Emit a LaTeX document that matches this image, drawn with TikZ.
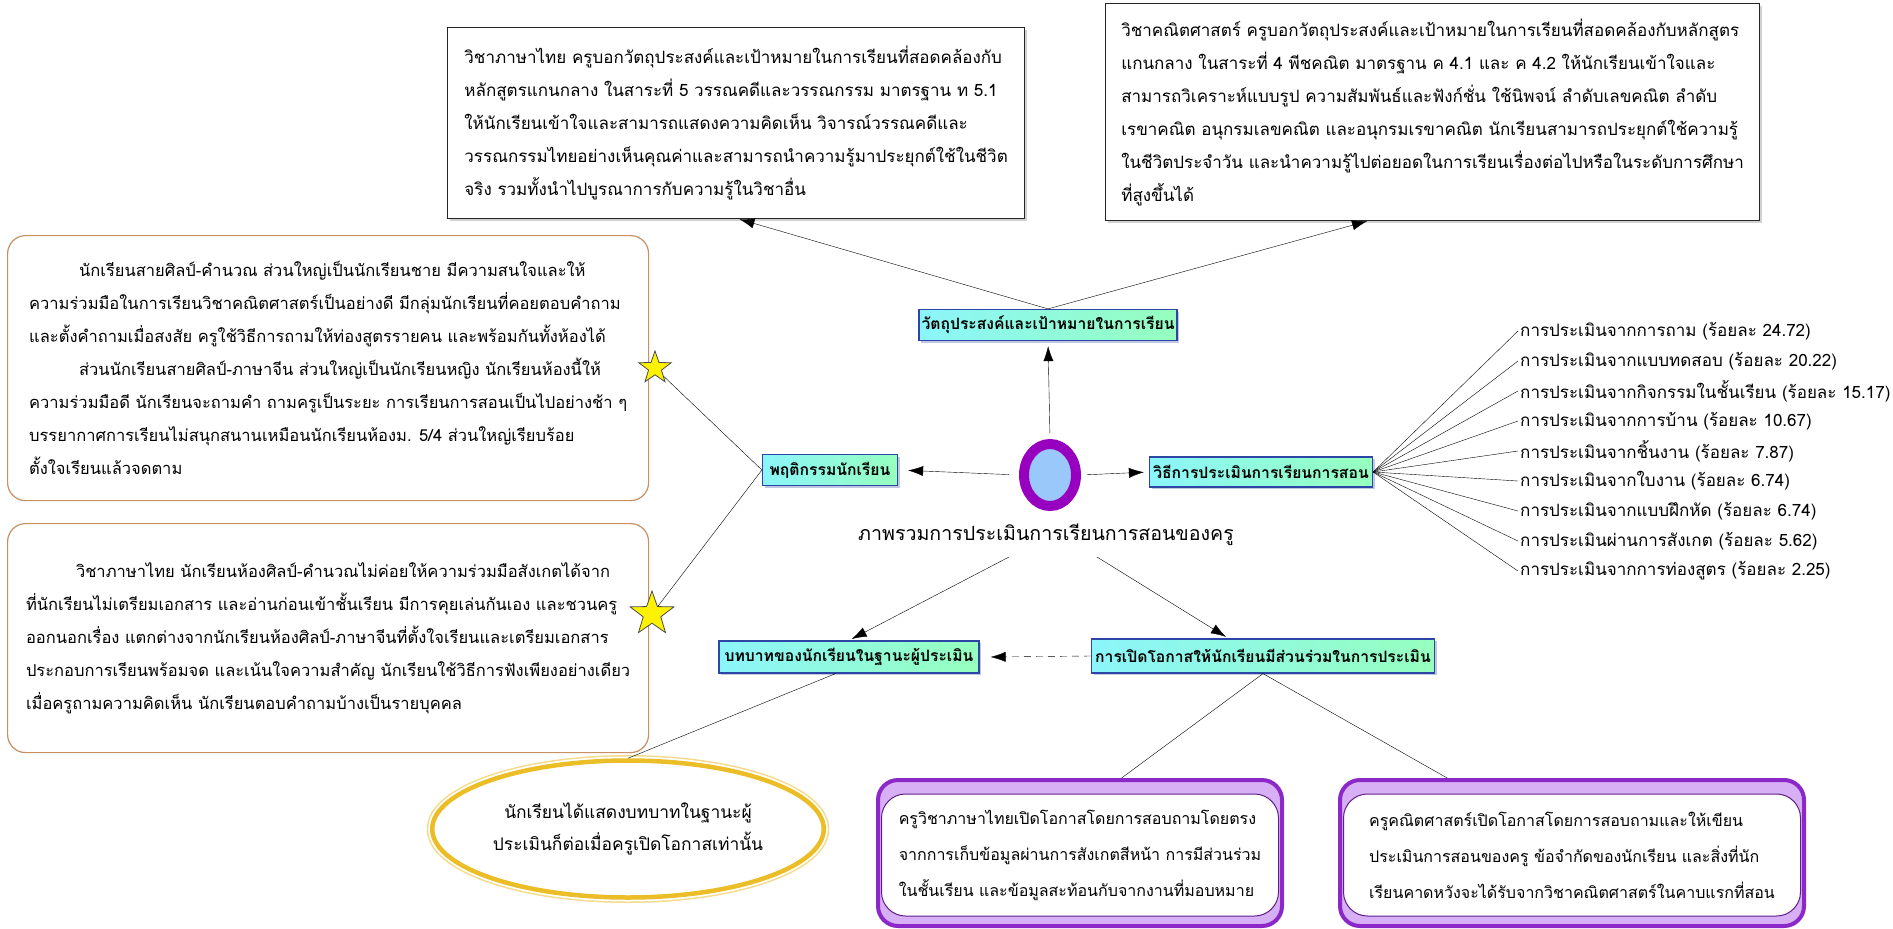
\documentclass[tikz,border=0pt]{standalone}
\usepackage{fontspec}
\setmainfont{Loma}[Script=Thai]
\usetikzlibrary{shapes.geometric,shadows,arrows.meta,calc}

\definecolor{tanline}{RGB}{200,145,100}
\definecolor{topicedge}{RGB}{45,70,165}
\definecolor{topicleft}{RGB}{140,245,250}
\definecolor{topicright}{RGB}{150,255,190}
\definecolor{ringpurple}{RGB}{150,0,190}
\definecolor{coreblue}{RGB}{155,200,250}
\definecolor{goldline}{RGB}{235,190,40}
\definecolor{lavender}{RGB}{215,175,245}
\definecolor{framepurple}{RGB}{140,40,200}

\begin{document}
\begin{tikzpicture}[x=1pt, y=-1pt, >={Latex[length=15pt,width=10pt]}]

\tikzstyle{note}=[draw=black!85, line width=1.2pt, fill=white, anchor=north west, align=left, inner sep=8pt, font=\fontsize{17}{33}\selectfont, drop shadow={shadow xshift=2pt, shadow yshift=-2pt, fill=black!35}]
\tikzstyle{remark}=[draw=tanline, line width=1.2pt, rounded corners=18pt, fill=white, anchor=north west, align=left, inner sep=8pt, font=\fontsize{16.5}{33}\selectfont]
\tikzstyle{topic}=[draw=topicedge, line width=1.2pt, left color=topicleft, right color=topicright, inner sep=2pt, font=\fontsize{15.7}{17}\selectfont\bfseries, drop shadow={shadow xshift=2pt, shadow yshift=-2pt, fill=topicedge!60}]
\tikzstyle{purpleframe}=[draw=framepurple, line width=4pt, rounded corners=20pt, fill=lavender]
\tikzstyle{innerbox}=[draw=framepurple!70!black, line width=1pt, rounded corners=24pt, fill=white, align=left, inner sep=4pt, font=\fontsize{16}{36}\selectfont]
\tikzstyle{listitem}=[anchor=west, inner sep=2pt, font=\fontsize{17}{20}\selectfont]
\tikzstyle{starmark}=[star, star points=5, star point ratio=2.5, draw=black!70, line width=0.8pt, fill=yellow, inner sep=0pt]

\path[use as bounding box, fill=white] (0,0) rectangle (1893,929);

\node[note, minimum width=577pt, minimum height=191pt] (thaiGoal) at (447,27) {วิชาภาษาไทย ครูบอกวัตถุประสงค์และเป้าหมายในการเรียนที่สอดคล้องกับ\\
หลักสูตรแกนกลาง ในสาระที่ 5 วรรณคดีและวรรณกรรม มาตรฐาน ท 5.1\\
ให้นักเรียนเข้าใจและสามารถแสดงความคิดเห็น วิจารณ์วรรณคดีและ\\
วรรณกรรมไทยอย่างเห็นคุณค่าและสามารถนำความรู้มาประยุกต์ใช้ในชีวิต\\
จริง รวมทั้งนำไปบูรณาการกับความรู้ในวิชาอื่น};

\node[note, minimum width=654pt, minimum height=217pt] (mathGoal) at (1105,3) {วิชาคณิตศาสตร์ ครูบอกวัตถุประสงค์และเป้าหมายในการเรียนที่สอดคล้องกับหลักสูตร\\
แกนกลาง ในสาระที่ 4 พีชคณิต มาตรฐาน ค 4.1 และ ค 4.2 ให้นักเรียนเข้าใจและ\\
สามารถวิเคราะห์แบบรูป ความสัมพันธ์และฟังก์ชั่น ใช้นิพจน์ ลำดับเลขคณิต ลำดับ\\
เรขาคณิต อนุกรมเลขคณิต และอนุกรมเรขาคณิต นักเรียนสามารถประยุกต์ใช้ความรู้\\
ในชีวิตประจำวัน และนำความรู้ไปต่อยอดในการเรียนเรื่องต่อไปหรือในระดับการศึกษา\\
ที่สูงขึ้นได้};

\node[remark, minimum width=641pt, minimum height=265pt] (classNote) at (7,235) {\hspace*{50pt}นักเรียนสายศิลป์-คำนวณ ส่วนใหญ่เป็นนักเรียนชาย มีความสนใจและให้\\
ความร่วมมือในการเรียนวิชาคณิตศาสตร์เป็นอย่างดี มีกลุ่มนักเรียนที่คอยตอบคำถาม\\
และตั้งคำถามเมื่อสงสัย ครูใช้วิธีการถามให้ท่องสูตรรายคน และพร้อมกันทั้งห้องได้\\
\hspace*{50pt}ส่วนนักเรียนสายศิลป์-ภาษาจีน ส่วนใหญ่เป็นนักเรียนหญิง นักเรียนห้องนี้ให้\\
ความร่วมมือดี นักเรียนจะถามคำ ถามครูเป็นระยะ การเรียนการสอนเป็นไปอย่างช้า ๆ\\
บรรยากาศการเรียนไม่สนุกสนานเหมือนนักเรียนห้องม. 5/4 ส่วนใหญ่เรียบร้อย\\
ตั้งใจเรียนแล้วจดตาม};

\node[remark, minimum width=641pt, minimum height=229pt] (thaiNote) at (7,523) {\hspace*{50pt}วิชาภาษาไทย นักเรียนห้องศิลป์-คำนวณไม่ค่อยให้ความร่วมมือสังเกตได้จาก\\
ที่นักเรียนไม่เตรียมเอกสาร และอ่านก่อนเข้าชั้นเรียน มีการคุยเล่นกันเอง และชวนครู\\
ออกนอกเรื่อง แตกต่างจากนักเรียนห้องศิลป์-ภาษาจีนที่ตั้งใจเรียนและเตรียมเอกสาร\\
ประกอบการเรียนพร้อมจด และเน้นใจความสำคัญ นักเรียนใช้วิธีการฟังเพียงอย่างเดียว\\
เมื่อครูถามความคิดเห็น นักเรียนตอบคำถามบ้างเป็นรายบุคคล};

\node[starmark, minimum size=34pt] (starA) at (655,368) {};
\node[starmark, minimum size=46pt] (starB) at (652,614) {};

\node[topic, minimum width=258pt, minimum height=31pt] (goal) at (1048,325) {วัตถุประสงค์และเป้าหมายในการเรียน};
\node[topic, minimum width=135pt, minimum height=31pt] (behav) at (830,470) {พฤติกรรมนักเรียน};
\node[topic, minimum width=223pt, minimum height=30pt] (method) at (1261,472) {วิธีการประเมินการเรียนการสอน};
\node[topic, minimum width=260pt, minimum height=32pt] (role) at (849,657) {บทบาทของนักเรียนในฐานะผู้ประเมิน};
\node[topic, minimum width=343pt, minimum height=34pt] (open) at (1263,656) {การเปิดโอกาสให้นักเรียนมีส่วนร่วมในการประเมิน};

\node[ellipse, draw=ringpurple, line width=10pt, fill=coreblue, minimum width=52pt, minimum height=62pt] (core) at (1050,475) {};
\node[font=\fontsize{19.6}{24}\selectfont] (coreLabel) at (1046,535) {ภาพรวมการประเมินการเรียนการสอนของครู};
\coordinate (splitL) at (1009,557);
\coordinate (splitR) at (1097,557);

\node[listitem] (m1) at (1518,331) {การประเมินจากการถาม (ร้อยละ 24.72)};
\node[listitem] (m2) at (1518,361) {การประเมินจากแบบทดสอบ (ร้อยละ 20.22)};
\node[listitem] (m3) at (1518,391) {การประเมินจากกิจกรรมในชั้นเรียน (ร้อยละ 15.17)};
\node[listitem] (m4) at (1518,421) {การประเมินจากการบ้าน (ร้อยละ 10.67)};
\node[listitem] (m5) at (1518,451) {การประเมินจากชิ้นงาน (ร้อยละ 7.87)};
\node[listitem] (m6) at (1518,481) {การประเมินจากใบงาน (ร้อยละ 6.74)};
\node[listitem] (m7) at (1518,511) {การประเมินจากแบบฝึกหัด (ร้อยละ 6.74)};
\node[listitem] (m8) at (1518,541) {การประเมินผ่านการสังเกต (ร้อยละ 5.62)};
\node[listitem] (m9) at (1518,571) {การประเมินจากการท่องสูตร (ร้อยละ 2.25)};

\node[ellipse, draw=goldline, line width=4.5pt, fill=white, minimum width=315pt, minimum height=137pt, align=center, font=\fontsize{17.4}{32}\selectfont, preaction={draw=goldline!55, line width=11pt}, preaction={draw=white, line width=8pt}] (gold) at (628,829) {นักเรียนได้แสดงบทบาทในฐานะผู้\\ประเมินก็ต่อเมื่อครูเปิดโอกาสเท่านั้น};

\node[purpleframe, minimum width=404pt, minimum height=146pt] (thaiOpenBg) at (1080,853) {};
\node[innerbox, minimum width=397pt, minimum height=122pt] (thaiOpen) at (1080,855) {ครูวิชาภาษาไทยเปิดโอกาสโดยการสอบถามโดยตรง\\
จากการเก็บข้อมูลผ่านการสังเกตสีหน้า การมีส่วนร่วม\\
ในชั้นเรียน และข้อมูลสะท้อนกับจากงานที่มอบหมาย};
\node[purpleframe, minimum width=464pt, minimum height=146pt] (mathOpenBg) at (1572,853) {};
\node[innerbox, minimum width=457pt, minimum height=122pt] (mathOpen) at (1572,855) {ครูคณิตศาสตร์เปิดโอกาสโดยการสอบถามและให้เขียน\\
ประเมินการสอนของครู ข้อจำกัดของนักเรียน และสิ่งที่นัก\\
เรียนคาดหวังจะได้รับจากวิชาคณิตศาสตร์ในคาบแรกที่สอน};

\draw[->, shorten <=6pt, shorten >=5pt] (core.north) -- (goal.south);
\draw[->, shorten <=10pt, shorten >=10pt] (core.west) -- (behav.east);
\draw[->, shorten <=6pt, shorten >=5pt] (core.east) -- (method.west);
\draw[->] (goal.north) -- (thaiGoal.272);
\draw[->] (goal.north) -- (mathGoal.239);
\draw (starA) -- (behav.west);
\draw (starB) -- (behav.west);
\draw[->, shorten >=3pt] (splitL) -- (role.north);
\draw[->, shorten >=3pt] (splitR) -- (open.153);
\draw[->, dash pattern=on 7pt off 5pt] (open.west) -- ($(role.east)+(11,0)$);
\draw (role.231) -- (gold.north);
\draw (open.south) -- (thaiOpenBg.61);
\draw (open.south) -- (mathOpenBg.149);
\draw (method.east) -- (m1.west);
\draw (method.east) -- (m2.west);
\draw (method.east) -- (m3.west);
\draw (method.east) -- (m4.west);
\draw (method.east) -- (m5.west);
\draw (method.east) -- (m6.west);
\draw (method.east) -- (m7.west);
\draw (method.east) -- (m8.west);
\draw (method.east) -- (m9.west);

\end{tikzpicture}
\end{document}
